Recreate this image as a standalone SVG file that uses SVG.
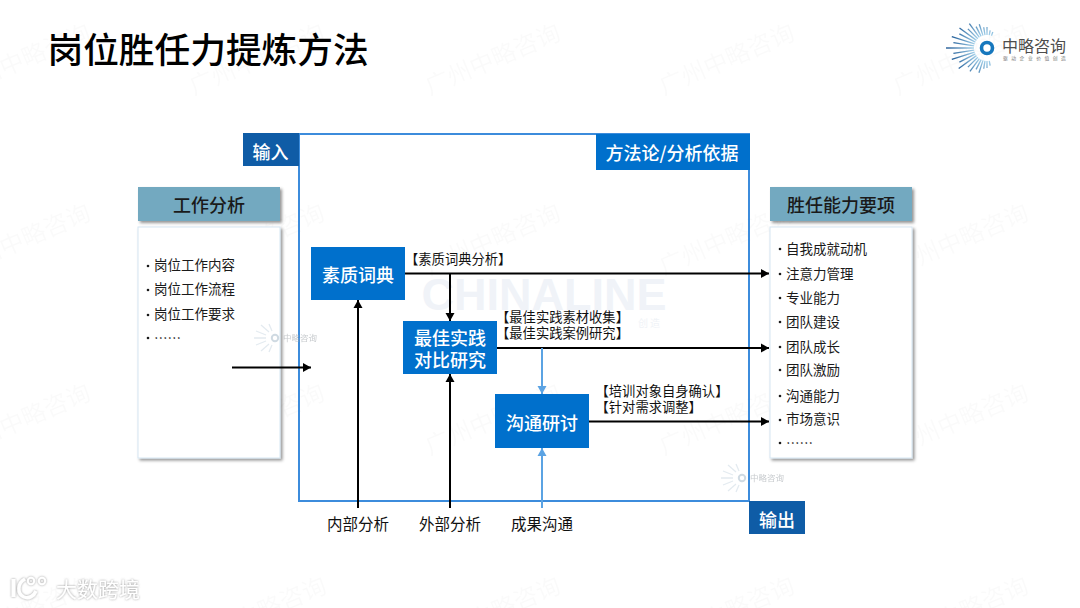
<svg xmlns="http://www.w3.org/2000/svg" width="1080" height="608" viewBox="0 0 1080 608">
<style>
text{font-family:"Noto Sans CJK SC","Noto Sans",sans-serif}
.wm{font-size:24px;fill:#000;opacity:.014;text-anchor:middle}
.head{font-size:18px;font-weight:500;fill:#1a1a1a;text-anchor:middle}
.white{font-size:18px;font-weight:500;fill:#fff;text-anchor:middle}
.li{font-size:13.5px;fill:#1a1a1a}
.lab{font-size:13.300px;fill:#111}
.bot{font-size:15.500px;fill:#111;text-anchor:middle}
.dark{fill:#0f5ca6}
.blue{fill:#0070cc}
.hd{fill:#73a9c0;filter:url(#sh)}
.bd{fill:#fff;stroke:#d5e6f2;stroke-width:1;filter:url(#sh)}
.k{stroke:#000;stroke-width:2;fill:none}
.b{stroke:#5ba3e3;stroke-width:2;fill:none}
.ray{stroke:url(#rg);stroke-width:1.3}
.dot{fill:#1a1a1a}
</style>
<defs>
<filter id="sh" x="-10%" y="-10%" width="125%" height="125%"><feDropShadow dx="2" dy="2" stdDeviation="1.6" flood-color="#000" flood-opacity=".42"/></filter>
<filter id="halo" x="-10%" y="-20%" width="120%" height="140%"><feDropShadow dx="0" dy="0" stdDeviation="1.300" flood-color="#777" flood-opacity=".8"/></filter>
<marker id="ak" markerUnits="userSpaceOnUse" markerWidth="9" markerHeight="10" refX="8" refY="5" orient="auto"><path d="M0 0.5L8 5L0 9.5Z" fill="#000"/></marker>
<marker id="ab" markerUnits="userSpaceOnUse" markerWidth="9" markerHeight="10" refX="8" refY="5" orient="auto"><path d="M0 0.5L8 5L0 9.5Z" fill="#5ba3e3"/></marker>
<linearGradient id="rg" gradientUnits="userSpaceOnUse" x1="948" y1="48" x2="975" y2="48"><stop offset="0" stop-color="#12508f"/><stop offset="1" stop-color="#a9d6ee"/></linearGradient>
<g id="mini" opacity=".55">
<circle cx="0" cy="0" r="3.200" fill="none" stroke="#a9bccb" stroke-width="2"/>
<path d="M-21 0H-9M-19 -7L-9 -3M-19 7L-9 3M-14 -13L-6 -6M-14 13L-6 6M-6 -14L-3 -7M-6 14L-3 7" fill="none" stroke="#cddae4" stroke-width="1.300"/>
<text x="8" y="3" font-size="8.500" fill="#9aa0a6">中略咨询</text>
</g>
</defs>
<rect width="1080" height="608" fill="#fff"/>

<g id="watermarks">
<text class="wm" transform="translate(26 67) rotate(-23)">广州中略咨询</text>
<text class="wm" transform="translate(260 67) rotate(-23)">广州中略咨询</text>
<text class="wm" transform="translate(496 67) rotate(-23)">广州中略咨询</text>
<text class="wm" transform="translate(730 67) rotate(-23)">广州中略咨询</text>
<text class="wm" transform="translate(964 67) rotate(-23)">广州中略咨询</text>
<text class="wm" transform="translate(26 247) rotate(-23)">广州中略咨询</text>
<text class="wm" transform="translate(260 247) rotate(-23)">广州中略咨询</text>
<text class="wm" transform="translate(496 247) rotate(-23)">广州中略咨询</text>
<text class="wm" transform="translate(730 247) rotate(-23)">广州中略咨询</text>
<text class="wm" transform="translate(964 247) rotate(-23)">广州中略咨询</text>
<text class="wm" transform="translate(26 427) rotate(-23)">广州中略咨询</text>
<text class="wm" transform="translate(260 427) rotate(-23)">广州中略咨询</text>
<text class="wm" transform="translate(496 427) rotate(-23)">广州中略咨询</text>
<text class="wm" transform="translate(730 427) rotate(-23)">广州中略咨询</text>
<text class="wm" transform="translate(964 427) rotate(-23)">广州中略咨询</text>
<text class="wm" transform="translate(26 620) rotate(-23)">广州中略咨询</text>
<text class="wm" transform="translate(262 620) rotate(-23)">广州中略咨询</text>
<text class="wm" transform="translate(496 620) rotate(-23)">广州中略咨询</text>
<text class="wm" transform="translate(730 620) rotate(-23)">广州中略咨询</text>
<text class="wm" transform="translate(964 620) rotate(-23)">广州中略咨询</text>
</g>

<text id="title" x="47.500" y="63" font-size="35.700" font-weight="500" fill="#000">岗位胜任力提炼方法</text>

<g id="logo">
<g class="ray">
<line x1="974" y1="48" x2="946" y2="48"/>
<line x1="974" y1="48" x2="953" y2="48" transform="rotate(9 987 48)"/>
<line x1="974" y1="48" x2="950" y2="48" transform="rotate(18 987 48)"/>
<line x1="974" y1="48" x2="956" y2="48" transform="rotate(27 987 48)"/>
<line x1="974" y1="48" x2="953" y2="48" transform="rotate(36 987 48)"/>
<line x1="974" y1="48" x2="960" y2="48" transform="rotate(45 987 48)"/>
<line x1="974" y1="48" x2="957" y2="48" transform="rotate(54 987 48)"/>
<line x1="974" y1="48" x2="963" y2="48" transform="rotate(63 987 48)"/>
<line x1="974" y1="48" x2="962" y2="48" transform="rotate(72 987 48)"/>
<line x1="974" y1="48" x2="966" y2="48" transform="rotate(81 987 48)"/>
<line x1="974" y1="48" x2="966" y2="48" transform="rotate(90 987 48)"/>
<line x1="974" y1="48" x2="969" y2="48" transform="rotate(100 987 48)"/>
<line x1="974" y1="48" x2="970" y2="48" transform="rotate(110 987 48)"/>
<line x1="974" y1="48" x2="953" y2="48" transform="rotate(-9 987 48)"/>
<line x1="974" y1="48" x2="950" y2="48" transform="rotate(-18 987 48)"/>
<line x1="974" y1="48" x2="956" y2="48" transform="rotate(-27 987 48)"/>
<line x1="974" y1="48" x2="952" y2="48" transform="rotate(-36 987 48)"/>
<line x1="974" y1="48" x2="960" y2="48" transform="rotate(-45 987 48)"/>
<line x1="974" y1="48" x2="958" y2="48" transform="rotate(-54 987 48)"/>
<line x1="974" y1="48" x2="963" y2="48" transform="rotate(-63 987 48)"/>
<line x1="974" y1="48" x2="961" y2="48" transform="rotate(-72 987 48)"/>
<line x1="974" y1="48" x2="966" y2="48" transform="rotate(-81 987 48)"/>
<line x1="974" y1="48" x2="967" y2="48" transform="rotate(-90 987 48)"/>
<line x1="974" y1="48" x2="969" y2="48" transform="rotate(-100 987 48)"/>
</g>
<circle cx="987" cy="48" r="5.500" fill="#fff" stroke="#1677bd" stroke-width="3.600"/>
<text x="1002" y="51.500" font-size="16" fill="#4d4d4d">中略咨询</text>
<text x="1003" y="59.500" font-size="4.800" letter-spacing="3.500" fill="#777">驱动企业价值创造</text>
</g>

<g id="watermark-center">
<text x="544" y="310" font-size="45" font-weight="700" fill="#f0f3f8" text-anchor="middle" style="font-family:'Liberation Sans',sans-serif">CHINALINE</text>
<text x="650" y="327" font-size="10" letter-spacing="2" fill="#f0f3f7" text-anchor="middle">创造</text>
</g>

<g id="frame">
<rect x="299" y="134" width="450" height="367" fill="none" stroke="#3c8cdc" stroke-width="2"/>
</g>

<g id="input-tag"><rect class="dark" x="243" y="133" width="56" height="33"/><text class="white" x="270.500" y="158.500">输入</text></g>
<g id="method-tag"><rect class="blue" x="596" y="134" width="154" height="36"/><text class="white" x="672" y="160">方法论/分析依据</text></g>
<g id="output-tag"><rect class="dark" x="749" y="501" width="56" height="33"/><text class="white" x="777" y="526.500">输出</text></g>

<g id="job-analysis">
<rect class="hd" x="138" y="187" width="142" height="34"/>
<text class="head" x="209" y="212">工作分析</text>
<rect class="bd" x="138" y="227" width="142" height="231"/>
<g class="li">
<circle class="dot" cx="148" cy="266" r="1.300"/><text x="154" y="270">岗位工作内容</text>
<circle class="dot" cx="148" cy="290" r="1.300"/><text x="154" y="294">岗位工作流程</text>
<circle class="dot" cx="148" cy="315" r="1.300"/><text x="154" y="319">岗位工作要求</text>
<circle class="dot" cx="148" cy="338" r="1.300"/><text x="154" y="343">……</text>
</g>
</g>

<g id="competency">
<rect class="hd" x="770" y="187" width="142" height="34"/>
<text class="head" x="841" y="212">胜任能力要项</text>
<rect class="bd" x="770" y="227" width="142" height="231"/>
<g class="li">
<circle class="dot" cx="780" cy="249" r="1.300"/><text x="786" y="254">自我成就动机</text>
<circle class="dot" cx="780" cy="274" r="1.300"/><text x="786" y="279">注意力管理</text>
<circle class="dot" cx="780" cy="298" r="1.300"/><text x="786" y="303">专业能力</text>
<circle class="dot" cx="780" cy="322" r="1.300"/><text x="786" y="327">团队建设</text>
<circle class="dot" cx="780" cy="347" r="1.300"/><text x="786" y="352">团队成长</text>
<circle class="dot" cx="780" cy="370" r="1.300"/><text x="786" y="375">团队激励</text>
<circle class="dot" cx="780" cy="396" r="1.300"/><text x="786" y="401">沟通能力</text>
<circle class="dot" cx="780" cy="420" r="1.300"/><text x="786" y="424">市场意识</text>
<circle class="dot" cx="780" cy="443" r="1.300"/><text x="786" y="448">……</text>
</g>
</g>

<g id="mini-logos">
<use href="#mini" x="275" y="338"/>
<use href="#mini" x="742" y="478"/>
</g>

<g id="connectors">
<path class="k" d="M232 367.500H311" marker-end="url(#ak)"/>
<path class="k" d="M405 273.500H769" marker-end="url(#ak)"/>
<path class="k" d="M450 273.500V321" marker-end="url(#ak)"/>
<path class="k" d="M497 348H769" marker-end="url(#ak)"/>
<path class="k" d="M589 421.500H769" marker-end="url(#ak)"/>
<path class="k" d="M358 508V300" marker-end="url(#ak)"/>
<path class="k" d="M450 508V374" marker-end="url(#ak)"/>
<path class="b" d="M542 348V394" marker-end="url(#ab)"/>
<path class="b" d="M542 508V448" marker-end="url(#ab)"/>
</g>

<g id="dictionary"><rect class="blue" x="311" y="247" width="94" height="53"/><text class="white" x="358" y="282">素质词典</text></g>
<g id="best-practice"><rect class="blue" x="403" y="321" width="94" height="53"/><text class="white" x="450" y="345">最佳实践</text><text class="white" x="450" y="367">对比研究</text></g>
<g id="workshop"><rect class="blue" x="495" y="394" width="94" height="54"/><text class="white" x="542" y="430">沟通研讨</text></g>

<g id="labels" class="lab">
<text x="405" y="264">【素质词典分析】</text>
<text x="496" y="322">【最佳实践素材收集】</text>
<text x="496" y="338">【最佳实践案例研究】</text>
<text x="595.500" y="396">【培训对象自身确认】</text>
<text x="595.500" y="412">【针对需求调整】</text>
</g>

<g id="bottom-labels" class="bot">
<text x="358" y="530">内部分析</text>
<text x="450" y="530">外部分析</text>
<text x="542" y="530">成果沟通</text>
</g>

<g id="source-mark" filter="url(#halo)">
<g fill="none" stroke="#fff">
<path d="M13.500 579V597" stroke-width="4"/>
<path d="M25 579C17 583 17 594 24 597C29 599 34 596 36 591" stroke-width="3.500"/>
<circle cx="31" cy="581" r="3.200" stroke-width="2"/>
<circle cx="42" cy="581" r="3.200" stroke-width="2"/>
</g>
<text x="56" y="597" font-size="21" fill="#fff">大数跨境</text>
</g>
</svg>
